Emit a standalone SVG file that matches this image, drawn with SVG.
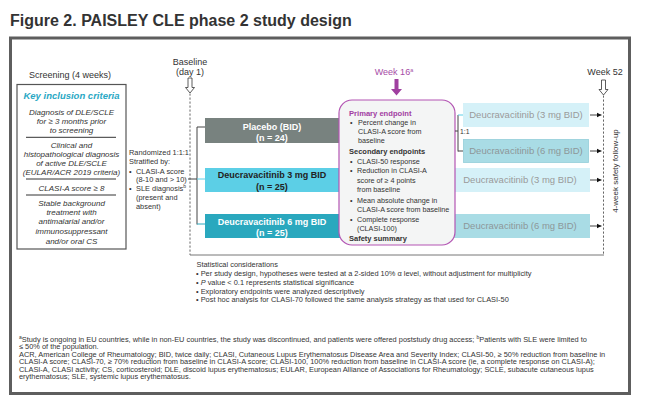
<svg xmlns="http://www.w3.org/2000/svg" width="646" height="414" viewBox="0 0 646 414">
<style>
.t{font-family:"Liberation Sans",Arial,sans-serif;fill:#333}
.title{font-size:16px;font-weight:bold}
.f9{font-size:9px}
.f8{font-size:8px}
.fb{font-size:7.2px}
.fs{font-size:7.4px}
.it{font-style:italic}
.bd{font-weight:bold}
.mid{text-anchor:middle}
.lnk{fill:none;stroke:#444;stroke-width:1}
.dash{fill:none;stroke:#666;stroke-width:1;stroke-dasharray:2.2 1.8}
.hol{fill:#fff;stroke:#333;stroke-width:0.8}
.grey{fill:#9a9a9a}
.grey2{fill:#8d9799}
</style>
<defs>
<marker id="ah" markerWidth="6" markerHeight="6" refX="5" refY="3" orient="auto" markerUnits="userSpaceOnUse">
<path d="M0,0.5 L5,3 L0,5.5 z" fill="#111"/>
</marker>
</defs>
<rect x="0" y="0" width="646" height="414" fill="#fff"/>
<text class="t title" x="10" y="26">Figure 2. PAISLEY CLE phase 2 study design</text>
<rect x="10.5" y="38" width="619" height="355.5" fill="#fff" stroke="#5e5e5e" stroke-width="3"/>

<g id="screening">
<text class="t f9 mid" x="70" y="78">Screening (4 weeks)</text>
<rect x="17" y="84.5" width="109" height="164.5" fill="#fff" stroke="#555" stroke-width="1.2"/>
<text class="t mid bd it" x="71.5" y="98.5" style="font-size:9.5px;fill:#2aa8c4">Key inclusion criteria</text>
<g class="t f8 it">
<text class="mid" x="71.5" y="115">Diagnosis of DLE/SCLE</text>
<text class="mid" x="71.5" y="124">for ≥ 3 months prior</text>
<text class="mid" x="71.5" y="133">to screening</text>
<text class="mid" x="71.5" y="148">Clinical and</text>
<text class="mid" x="71.5" y="157">histopathological diagnosis</text>
<text class="mid" x="71.5" y="166">of active DLE/SCLE</text>
<text class="mid" x="71.5" y="175">(EULAR/ACR 2019 criteria)</text>
<text class="mid" x="71.5" y="191">CLASI-A score ≥ 8</text>
<text class="mid" x="71.5" y="206">Stable background</text>
<text class="mid" x="71.5" y="215">treatment with</text>
<text class="mid" x="71.5" y="224">antimalarial and/or</text>
<text class="mid" x="71.5" y="234">immunosuppressant</text>
<text class="mid" x="71.5" y="244">and/or oral CS</text>
</g>
<path d="M26,137.3 H116 M26,179 H116 M26,195 H116" stroke="#333" stroke-width="1"/>
</g>

<g id="randomization" class="t fs">
<text x="129" y="154.6">Randomized 1:1:1</text>
<text x="129" y="163.6">Stratified by:</text>
<text x="129" y="173.6">•</text><text x="136" y="173.6">CLASI-A score</text>
<text x="136" y="181.6">(8-10 and &gt; 10)</text>
<text x="129" y="190.6">•</text><text x="136" y="190.6">SLE diagnosis<tspan dy="-2.5" style="font-size:5px">b</tspan></text>
<text x="136" y="199.6">(present and</text>
<text x="136" y="208.6">absent)</text>
</g>

<g id="baseline">
<text class="t f9 mid" x="190" y="64.5">Baseline</text>
<text class="t f9 mid" x="190" y="75">(day 1)</text>
<path class="hol" d="M188,78 H192 V87.5 H194.5 L190,93 L185.5,87.5 H188 Z"/>
</g>

<g id="week16">
<text class="t f9 mid" x="394" y="74.5" style="fill:#a64ca6">Week 16<tspan dy="-3" style="font-size:5.5px">a</tspan></text>
<path d="M394.5,79 H398.5 V89 H402 L396.5,95.5 L391,89 H394.5 Z" fill="#a040a0"/>
</g>

<g id="week52">
<text class="t f9 mid" x="605" y="75">Week 52</text>
<path class="hol" d="M601.5,80 H605.5 V89.5 H608 L603.5,95 L599,89.5 H601.5 Z"/>
</g>

<g id="placebo">
<rect x="205" y="118" width="145" height="25" fill="#78827f"/>
<text class="t f9 bd mid" x="272" y="130.2" style="fill:#fff">Placebo (BID)</text>
<text class="t f9 bd mid" x="272" y="141.2" style="fill:#fff">(n = 24)</text>
</g>
<g id="deu3">
<rect x="205" y="168" width="145" height="24" fill="#5ccfe6"/>
<text class="t f9 bd mid" x="272" y="178.2" style="fill:#222">Deucravacitinib 3 mg BID</text>
<text class="t f9 bd mid" x="272" y="190" style="fill:#222">(n = 25)</text>
</g>
<g id="deu6">
<rect x="205" y="214" width="145" height="24" fill="#2aa8be"/>
<text class="t f9 bd mid" x="272" y="225.2" style="fill:#fff">Deucravacitinib 6 mg BID</text>
<text class="t f9 bd mid" x="272" y="236.2" style="fill:#fff">(n = 25)</text>
</g>

<g id="ext3a">
<rect x="463" y="103" width="126" height="24" fill="#d5f1f8"/>
<text class="t grey mid" x="526" y="118.4" style="font-size:9.5px">Deucravacitinib (3 mg BID)</text>
</g>
<g id="ext6a">
<rect x="463.4" y="139.4" width="125.2" height="23.2" fill="#a9dce5" stroke="#95cfda" stroke-width="0.8"/>
<text class="t grey2 mid" x="526" y="154.4" style="font-size:9.5px">Deucravacitinib (6 mg BID)</text>
</g>
<g id="ext3b">
<rect x="440" y="168" width="150" height="24" fill="#d5f1f8"/>
<text class="t grey mid" x="520" y="183.4" style="font-size:9.5px">Deucravacitinib (3 mg BID)</text>
</g>
<g id="ext6b">
<rect x="440" y="214" width="150" height="24" fill="#a9dce5"/>
<text class="t grey2 mid" x="520" y="229.4" style="font-size:9.5px">Deucravacitinib (6 mg BID)</text>
</g>

<g id="endpoints">
<rect x="339" y="100" width="116" height="145" rx="13" fill="#f4f5f5" stroke="#b355b3" stroke-width="1.2"/>
<text class="t bd" x="349" y="115.5" style="font-size:7.6px;fill:#a23ea2">Primary endpoint</text>
<g class="t fb">
<text x="350" y="125">•</text><text x="358" y="125">Percent change in</text>
<text x="358" y="134">CLASI-A score from</text>
<text x="358" y="143">baseline</text>
<text class="bd" x="349" y="153.5" style="font-size:7.5px">Secondary endpoints</text>
<text x="350" y="164">•</text><text x="357" y="164">CLASI-50 response</text>
<text x="350" y="173.3">•</text><text x="357" y="173.3">Reduction in CLASI-A</text>
<text x="357" y="182.5">score of ≥ 4 points</text>
<text x="357" y="192">from baseline</text>
<text x="350" y="202.5">•</text><text x="357" y="202.5">Mean absolute change in</text>
<text x="357" y="211.5">CLASI-A score from baseline</text>
<text x="350" y="221.5">•</text><text x="357" y="221.5">Complete response</text>
<text x="357" y="230.5">(CLASI-100)</text>
<text class="bd" x="349" y="240.5" style="font-size:7.5px">Safety summary</text>
</g>
</g>

<g id="connectors">
<path class="dash" d="M190,93.5 V255"/>
<path class="dash" d="M603.5,95.5 V255"/>
<path d="M190,255 H604" stroke="#777" stroke-width="1" fill="none"/>
<path class="lnk" d="M188,179 H197 M197,127 V224.5 M197,127 H205"/>
<path d="M197,179 H205" stroke="#5ccfe6" stroke-width="1"/>
<path d="M197,224 H205" stroke="#2aa8be" stroke-width="1"/>
<path class="lnk" d="M455,131 H458 M458,115 V151.5 M458,151 H463"/>
<path d="M458,115 H463" stroke="#5ccfe6" stroke-width="1"/>
<path class="lnk" d="M590,115 H601.5" marker-end="url(#ah)"/>
<path class="lnk" d="M590,151 H601.5" marker-end="url(#ah)"/>
<path class="lnk" d="M590,180 H601.5" marker-end="url(#ah)"/>
<path class="lnk" d="M590,226 H601.5" marker-end="url(#ah)"/>
</g>
<text class="t" x="460" y="133.5" style="font-size:6.8px">1:1</text>
<text class="t f8 mid" transform="translate(618,171) rotate(-90)">4-week safety follow-up</text>

<g id="stats" class="t fs">
<text x="196.5" y="266.6">Statistical considerations</text>
<text x="196" y="275.6">• Per study design, hypotheses were tested at a 2-sided 10% α level, without adjustment for multiplicity</text>
<text x="196" y="284.6">• <tspan class="it">P</tspan> value &lt; 0.1 represents statistical significance</text>
<text x="196" y="293.6">• Exploratory endpoints were analyzed descriptively</text>
<text x="196" y="302.2">• Post hoc analysis for CLASI-70 followed the same analysis strategy as that used for CLASI-50</text>
</g>

<g id="footnotes" class="t fs">
<text x="19" y="341.6"><tspan dy="-2.5" style="font-size:5px">a</tspan><tspan dy="2.5">Study is ongoing in EU countries, while in non-EU countries, the study was discontinued, and patients were offered poststudy drug access; </tspan><tspan dy="-2.5" style="font-size:5px">b</tspan><tspan dy="2.5">Patients with SLE were limited to</tspan></text>
<text x="19" y="349.1">≤ 50% of the population.</text>
<text x="19" y="356.6">ACR, American College of Rheumatology; BID, twice daily; CLASI, Cutaneous Lupus Erythematosus Disease Area and Severity Index; CLASI-50, ≥ 50% reduction from baseline in</text>
<text x="19" y="364.1">CLASI-A score; CLASI-70, ≥ 70% reduction from baseline in CLASI-A score; CLASI-100, 100% reduction from baseline in CLASI-A score (ie, a complete response on CLASI-A);</text>
<text x="19" y="371.6">CLASI-A, CLASI activity; CS, corticosteroid; DLE, discoid lupus erythematosus; EULAR, European Alliance of Associations for Rheumatology; SCLE, subacute cutaneous lupus</text>
<text x="19" y="379.1">erythematosus; SLE, systemic lupus erythematosus.</text>
</g>
</svg>
